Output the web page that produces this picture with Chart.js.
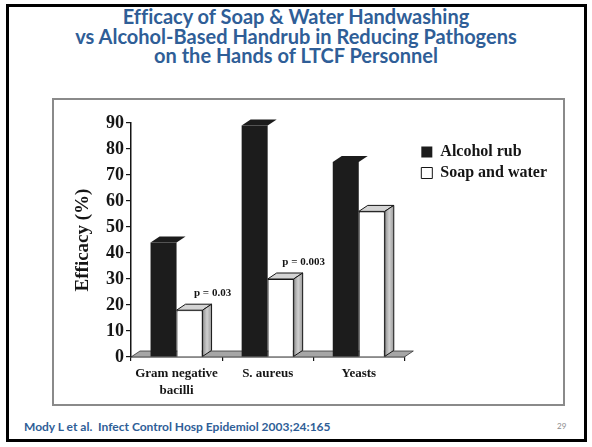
<!DOCTYPE html>
<html>
<head>
<meta charset="utf-8">
<script src="https://cdn.jsdelivr.net/npm/chart.js@4.4.1/dist/chart.umd.min.js"></script>
<style>
  html, body { margin: 0; padding: 0; background: #fff; }
  body { width: 592px; height: 447px; position: relative; overflow: hidden; }
  .slide { position: absolute; left: 6px; top: 4px; width: 575px; height: 432px; border: 3px solid #000; }
  .title { position: absolute; left: 0; top: 7px; width: 592px; text-align: center; font-variant-ligatures: none;
    font-family: Lato, "Open Sans", sans-serif; font-weight: 700; font-size: 20px; line-height: 19.5px; color: #2f5e97; }
  .box { position: absolute; left: 52px; top: 98px; width: 509px; height: 304px; border: 2px solid #8a8a8a; }
  #chart { position: absolute; left: 0; top: 0; }
  .cite { position: absolute; left: 24px; top: 419px; white-space: pre;
    font-family: Lato, sans-serif; font-weight: 700; font-size: 12px; color: #2f5e97; }
  .num { position: absolute; left: 557px; top: 421px; font-family: Lato, sans-serif; font-size: 8px; color: #8c8c8c; }
</style>
</head>
<body>
<div class="slide"></div>
<div class="title">Efficacy of Soap &amp; Water Handwashing<br>vs Alcohol-Based Handrub in Reducing Pathogens<br>on the Hands of LTCF Personnel</div>
<div class="box"><canvas id="chart" width="509" height="304"></canvas></div>
<div class="cite">Mody L et al.  Infect Control Hosp Epidemiol 2003;24:165</div>
<div class="num">29</div>
<script>
const categories = [["Gram negative", "bacilli"], "S. aureus", "Yeasts"];
const alcoholRub = [44, 89, 75];
const soapAndWater = [18, 30, 56];
const pValues = ["p = 0.03", "p = 0.003", ""];

const serif = "'Liberation Serif', 'Times New Roman', serif";
const ink = "#151515";
const depthX = 9;
const depthY = 6;

// fake 3D: floor strip, top faces and side faces
const bars3d = {
  id: "bars3d",
  beforeDatasetsDraw(chart) {
    const { ctx, chartArea, scales } = chart;
    const y0 = scales.y.getPixelForValue(0);
    ctx.save();
    ctx.beginPath();
    ctx.moveTo(chartArea.left, y0);
    ctx.lineTo(chartArea.right, y0);
    ctx.lineTo(chartArea.right + depthX, y0 - depthY);
    ctx.lineTo(chartArea.left + depthX, y0 - depthY);
    ctx.closePath();
    ctx.fillStyle = "#a6a6a6";
    ctx.fill();
    ctx.strokeStyle = "#333";
    ctx.lineWidth = 0.8;
    ctx.stroke();
    ctx.restore();
  },
  afterDatasetsDraw(chart) {
    const ctx = chart.ctx;
    ctx.save();
    chart.getDatasetMeta(0).data.forEach(bar => {
      const l = bar.x - bar.width / 2, r = bar.x + bar.width / 2;
      ctx.beginPath();
      ctx.moveTo(l, bar.y);
      ctx.lineTo(l + depthX, bar.y - depthY);
      ctx.lineTo(r + depthX, bar.y - depthY);
      ctx.lineTo(r, bar.y);
      ctx.closePath();
      ctx.fillStyle = "#1c1c1c";
      ctx.fill();
    });
    chart.getDatasetMeta(1).data.forEach((bar, i) => {
      const l = bar.x - bar.width / 2, r = bar.x + bar.width / 2;
      ctx.lineWidth = 1;
      ctx.strokeStyle = ink;
      // top face
      ctx.beginPath();
      ctx.moveTo(l, bar.y);
      ctx.lineTo(l + depthX, bar.y - depthY);
      ctx.lineTo(r + depthX, bar.y - depthY);
      ctx.lineTo(r, bar.y);
      ctx.closePath();
      ctx.fillStyle = "#d4d4d4";
      ctx.fill();
      ctx.stroke();
      // side face
      const g = ctx.createLinearGradient(r, 0, r + depthX, 0);
      g.addColorStop(0, "#8e8e8e");
      g.addColorStop(0.5, "#d0d0d0");
      g.addColorStop(1, "#9a9a9a");
      ctx.beginPath();
      ctx.moveTo(r, bar.y);
      ctx.lineTo(r + depthX, bar.y - depthY);
      ctx.lineTo(r + depthX, bar.base - depthY);
      ctx.lineTo(r, bar.base);
      ctx.closePath();
      ctx.fillStyle = g;
      ctx.fill();
      ctx.stroke();
      if (pValues[i]) {
        ctx.fillStyle = ink;
        ctx.font = "bold 11px " + serif;
        ctx.textAlign = "center";
        ctx.textBaseline = "middle";
        ctx.fillText(pValues[i], r + 10, bar.y - 17);
      }
    });
    ctx.restore();
  }
};

new Chart(document.getElementById("chart"), {
  type: "bar",
  data: {
    labels: categories,
    datasets: [
      { label: "Alcohol rub", data: alcoholRub, backgroundColor: "#1c1c1c", borderWidth: 0 },
      { label: "Soap and water", data: soapAndWater, backgroundColor: "#ffffff", borderColor: ink, borderWidth: 1 }
    ]
  },
  options: {
    responsive: false,
    animation: false,
    layout: { padding: { top: 23, right: 6, bottom: 0, left: 0 } },
    datasets: { bar: { categoryPercentage: 0.571, barPercentage: 1.0 } },
    plugins: {
      tooltip: { enabled: false },
      legend: {
        position: "right",
        align: "start",
        maxWidth: 200,
        title: { display: true, text: " ", font: { size: 10 }, padding: { top: 0, bottom: 4 } },
        labels: {
          boxWidth: 11, boxHeight: 11, padding: 5, color: ink,
          font: { family: serif, size: 16, weight: "bold" }
        }
      }
    },
    scales: {
      x: {
        ticks: { color: ink, padding: 4, maxRotation: 0, minRotation: 0, autoSkip: false,
          font: { family: serif, size: 13, weight: "bold", lineHeight: 1.3 } },
        grid: { drawOnChartArea: false, tickLength: 4, color: ink, lineWidth: 1.2, offset: true },
        border: { color: ink, width: 1.2 },
        afterFit: s => { s.height = 47; }
      },
      y: {
        min: 0, max: 90,
        ticks: { stepSize: 10, color: ink, padding: 2, font: { family: serif, size: 18, weight: "bold" } },
        grid: { drawOnChartArea: false, tickLength: 5, color: ink, lineWidth: 1.2 },
        border: { color: ink, width: 1.5 },
        title: { display: true, text: "Efficacy (%)", color: ink, padding: { top: 18, bottom: 0 },
          font: { family: serif, size: 19, weight: "bold" } },
        afterFit: s => { s.width = 77; }
      },
      yR: {
        type: "linear", position: "right", display: true,
        ticks: { display: false }, grid: { display: false }, border: { display: false },
        afterFit: s => { s.width = 12; }
      }
    }
  },
  plugins: [bars3d]
});
</script>
</body>
</html>
